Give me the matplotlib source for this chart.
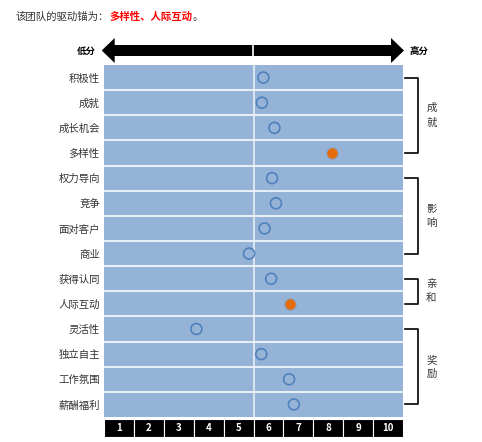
import numpy as np
import matplotlib
matplotlib.use('Agg')
import matplotlib.pyplot as plt
from matplotlib.patches import FancyArrow

plt.rcParams['font.family'] = ['Noto Sans CJK SC', 'DejaVu Sans']

# data
factors = ['积极性', '成就', '成长机会', '多样性', '权力导向', '竞争', '面对客户', '商业',
           '获得认同', '人际互动', '灵活性', '独立自主', '工作氛围', '薪酬福利']
scores = [5.33, 5.28, 5.70, 7.64, 5.62, 5.75, 5.37, 4.85,
          5.59, 6.22, 3.09, 5.26, 6.19, 6.35]
highlight = ['多样性', '人际互动']
groups = ['成就', '影响', '亲和', '奖励']
group_sizes = [4, 4, 2, 4]
scale = list(range(1, 11))

W, H = 482, 442
fig = plt.figure(figsize=(W / 100, H / 100), dpi=100)

def px_axes(x0, y0, x1, y1):
    return fig.add_axes([x0 / W, 1 - y1 / H, (x1 - x0) / W, (y1 - y0) / H])

# title line
t1 = fig.text(16 / W, 1 - 17 / H, '该团队的驱动锚为：', fontsize=7.5, va='center', color='#333333')
fig.canvas.draw()
bb = t1.get_window_extent()
t2 = fig.text(bb.x1 / W, 1 - 17 / H, '、'.join(highlight), fontsize=7.5, va='center',
              color='#FF0000', fontweight='bold')
bb2 = t2.get_window_extent()
fig.text(bb2.x1 / W, 1 - 17 / H, '。', fontsize=7.5, va='center', color='#333333')

# main panel
ax = px_axes(104, 65, 403, 417)
n = len(factors)
y = np.arange(n) + 0.5
ax.set_facecolor('#95B3D7')
ax.set_xlim(0, 10)
ax.set_ylim(n, 0)
for i in range(1, n):
    ax.axhline(i, color='#E8EEF6', lw=1.5)
ax.axvline(5, color='#E8EEF6', lw=1.2)

hl = np.array([f in highlight for f in factors])
sc = np.array(scores)
ax.scatter(sc[~hl], y[~hl], s=62, facecolor='none', edgecolor='#4F81BD', lw=1.2, zorder=3)
ax.scatter(sc[hl], y[hl], s=70, facecolor='#E46C0A', edgecolor='#8AA6CC', lw=0.8, zorder=3)

ax.set_yticks(y)
ax.set_yticklabels(factors, fontsize=7.5, color='#333333')
ax.set_xticks([])
ax.tick_params(axis='y', length=0, pad=3)
for s in ax.spines.values():
    s.set_visible(False)

# group brackets on the right
start = 0
for g, k in zip(groups, group_sizes):
    ya, yb = start + 0.5, start + k - 0.5
    ax.plot([10.07, 10.5, 10.5, 10.07], [ya, ya, yb, yb], color='black', lw=1.2, clip_on=False)
    ax.text(10.95, (ya + yb) / 2, '\n'.join(g), fontsize=7.5, ha='center', va='center',
            linespacing=1.5, color='#333333')
    start += k

# scale boxes at the bottom
axb = px_axes(104, 419, 403, 437)
axb.bar(np.array(scale) - 0.5, 1, width=1, color='black', edgecolor='white', lw=0.8)
for v in scale:
    axb.text(v - 0.5, 0.5, str(v), color='white', fontsize=7, fontweight='bold',
             ha='center', va='center')
axb.set_xlim(0, 10)
axb.set_ylim(0, 1)
axb.axis('off')

# low/high arrow
axa = px_axes(101.7, 38, 404, 63)
axa.set_xlim(0, 10)
axa.set_ylim(-1, 1)
axa.axis('off')
for d in (-5, 5):
    axa.add_patch(FancyArrow(5, 0, d, 0, width=0.88, head_width=2, head_length=0.43,
                             length_includes_head=True, color='black', lw=0))
axa.axvline(5, ymin=0.25, ymax=0.75, color='white', lw=1.2)
fig.text(86 / W, 1 - 50.5 / H, '低分', fontsize=6.8, ha='center', va='center', fontweight='bold')
fig.text(419 / W, 1 - 50.5 / H, '高分', fontsize=6.8, ha='center', va='center', fontweight='bold')

fig.savefig('out.png', dpi=100)
